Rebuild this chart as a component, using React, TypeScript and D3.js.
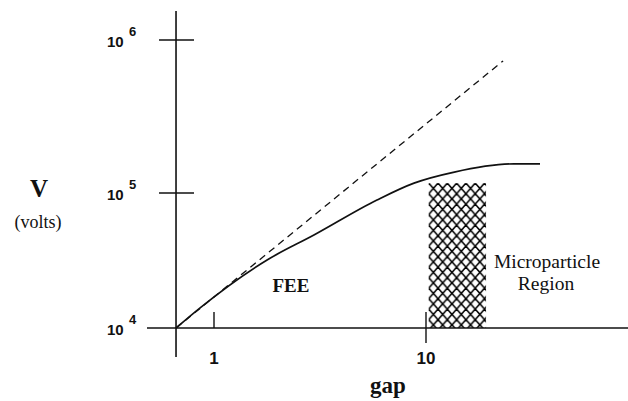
import React from 'react'
import * as d3 from 'd3'

// gap values and voltages
const fee = [
  { gap: 0.662, v: 10000 },
  { gap: 0.86, v: 14100 },
  { gap: 1.78, v: 31900 },
  { gap: 2.96, v: 48800 },
  { gap: 5.87, v: 88700 },
  { gap: 8.78, v: 116000 },
  { gap: 13.6, v: 137000 },
  { gap: 26.0, v: 155000 },
  { gap: 34.5, v: 155000 },
]
const linear = [
  { gap: 0.662, v: 10000 },
  { gap: 23.1, v: 730000 },
]
const microparticle = { gap0: 10.3, gap1: 19.2, v0: 10000, v1: 116000 }
const yTicks = [
  { v: 1e4, exp: '4' },
  { v: 1e5, exp: '5' },
  { v: 1e6, exp: '6' },
]
const xTicks = [
  { gap: 1, label: '1' },
  { gap: 10, label: '10' },
]
const origin = { gap: 0.662, v: 10000 }
const xExtent = [0.483, 90]
const yExtent = [6100, 1.55e6]

const App = () => {
  const width = 628
  const height = 401

  const x = d3.scaleLog().domain([1, 10]).range([214, 426])
  const y = d3.scaleLog().domain([1e4, 1e5, 1e6]).range([328, 193, 40])

  const feePath = d3.line<{ gap: number; v: number }>()
    .x(d => x(d.gap))
    .y(d => y(d.v))
    .curve(d3.curveMonotoneX)(fee) || ''
  const linPath = d3.line<{ gap: number; v: number }>()
    .x(d => x(d.gap))
    .y(d => y(d.v))(linear) || ''

  const ox = x(origin.gap)
  const oy = y(origin.v)

  const sans = 'Liberation Sans, Arial, sans-serif'
  const serif = 'Liberation Serif, Times New Roman, serif'

  return (
    <svg width={width} height={height} style={{ position: 'absolute', left: 0, top: 0, background: '#fff' }}>
      <defs>
        <pattern id="hatch" patternUnits="userSpaceOnUse" x={x(microparticle.gap0)} y={y(microparticle.v1)} width={9.3} height={10.5}>
          <line x1={0} y1={0} x2={9.3} y2={10.5} stroke="#000" strokeWidth={1.5} />
          <line x1={9.3} y1={0} x2={0} y2={10.5} stroke="#000" strokeWidth={1.5} />
        </pattern>
      </defs>

      <rect
        x={x(microparticle.gap0)}
        y={y(microparticle.v1)}
        width={x(microparticle.gap1) - x(microparticle.gap0)}
        height={y(microparticle.v0) - y(microparticle.v1)}
        fill="url(#hatch)"
      />

      {/* axes */}
      <line x1={x(xExtent[0])} x2={x(xExtent[1])} y1={oy} y2={oy} stroke="#111" strokeWidth={1.6} />
      <line x1={ox} x2={ox} y1={y(yExtent[0])} y2={y(yExtent[1])} stroke="#111" strokeWidth={1.6} />

      {yTicks.map(t => (
        <g key={t.exp}>
          {t.v > 1e4 && <line x1={ox - 17} x2={ox + 18} y1={y(t.v)} y2={y(t.v)} stroke="#111" strokeWidth={1.6} />}
          <text x={ox - 69} y={y(t.v) + 7} fontFamily={sans} fontWeight="bold" fontSize={15} fill="#111">10</text>
          <text x={ox - 47} y={y(t.v) - 4} fontFamily={sans} fontWeight="bold" fontSize={13} fill="#111">{t.exp}</text>
        </g>
      ))}

      {xTicks.map(t => (
        <g key={t.label}>
          <line x1={x(t.gap)} x2={x(t.gap)} y1={oy - 16} y2={t.gap === 10 ? oy + 15 : oy} stroke="#111" strokeWidth={1.4} />
          <text x={x(t.gap)} y={oy + 36} textAnchor="middle" fontFamily={sans} fontWeight="bold" fontSize={17} fill="#111">{t.label}</text>
        </g>
      ))}

      <path d={linPath} fill="none" stroke="#111" strokeWidth={1.3} strokeDasharray="7 5" />
      <path d={feePath} fill="none" stroke="#111" strokeWidth={1.7} />

      <text x={39} y={197} textAnchor="middle" fontFamily={serif} fontWeight="bold" fontSize={25} fill="#111">V</text>
      <text x={38} y={228} textAnchor="middle" fontFamily={serif} fontSize={18} fill="#111">(volts)</text>
      <text x={388} y={393} textAnchor="middle" fontFamily={serif} fontWeight="bold" fontSize={23} fill="#111">gap</text>
      <text x={291} y={292} textAnchor="middle" fontFamily={serif} fontWeight="bold" fontSize={19} fill="#111">FEE</text>
      <text x={547} y={268} textAnchor="middle" fontFamily={serif} fontSize={19.5} fill="#111">Microparticle</text>
      <text x={546} y={290} textAnchor="middle" fontFamily={serif} fontSize={19.5} fill="#111">Region</text>
    </svg>
  )
}

export default App
